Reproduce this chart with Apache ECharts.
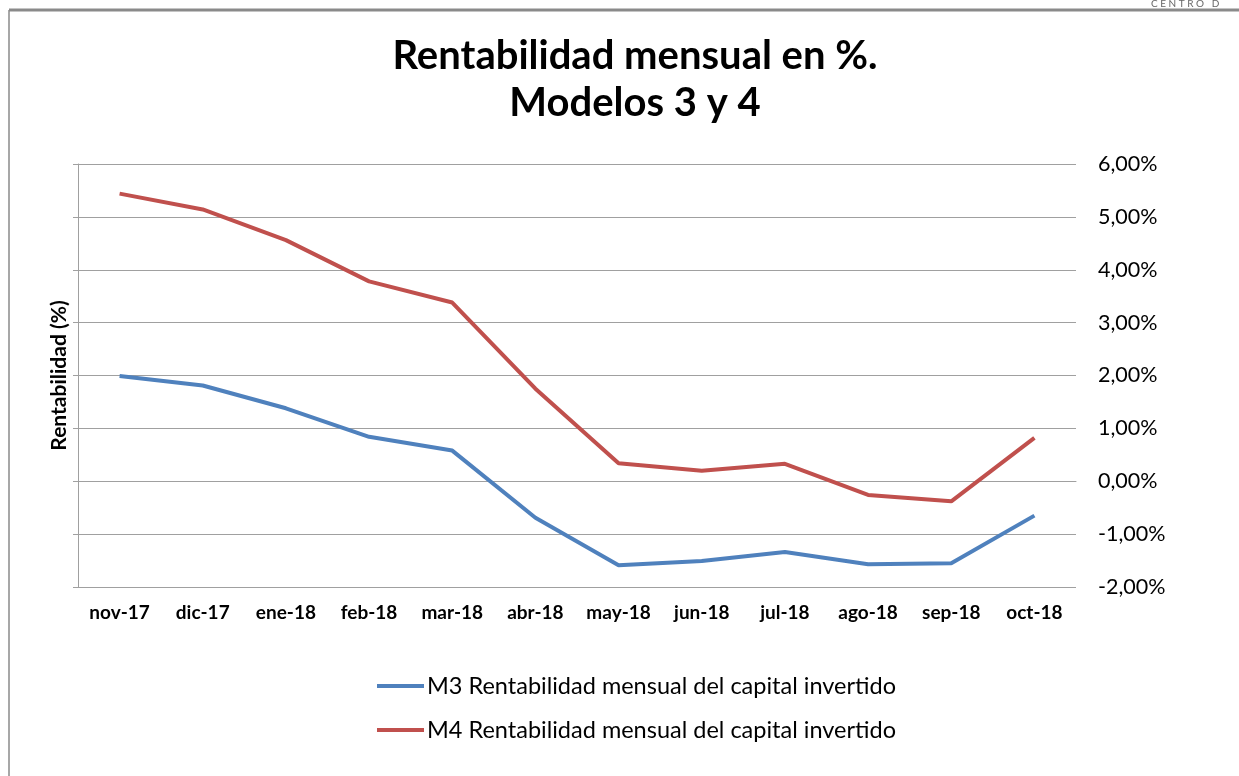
<!DOCTYPE html>
<html>
<head>
<meta charset="utf-8">
<script src="https://cdn.jsdelivr.net/npm/echarts@6/dist/echarts.min.js"></script>
<style>
  html, body { margin: 0; padding: 0; background: #fff; }
  #chart { width: 1239px; height: 776px; }
</style>
</head>
<body>
<div id="chart"></div>
<script>
let months = ['nov-17', 'dic-17', 'ene-18', 'feb-18', 'mar-18', 'abr-18', 'may-18', 'jun-18', 'jul-18', 'ago-18', 'sep-18', 'oct-18'];
let m3Values = [1.99, 1.81, 1.38, 0.84, 0.58, -0.69, -1.59, -1.51, -1.34, -1.57, -1.55, -0.65];
let m4Values = [5.44, 5.14, 4.56, 3.78, 3.38, 1.75, 0.34, 0.20, 0.33, -0.26, -0.38, 0.82];
let m3Name = 'M3 Rentabilidad mensual del capital invertido';
let m4Name = 'M4 Rentabilidad mensual del capital invertido';

let font = 'Lato, "Open Sans", sans-serif';
let chart = echarts.init(document.getElementById('chart'));

let options = {
  backgroundColor: '#fff',
  textStyle: { fontFamily: font },
  title: {
    text: 'Rentabilidad mensual en %.\nModelos 3 y 4',
    left: 630,
    textAlign: 'center',
    top: 28,
    textStyle: { fontSize: 40, fontWeight: 'bold', color: '#000', lineHeight: 47, fontFamily: font }
  },
  legend: {
    orient: 'vertical',
    left: 377,
    top: 674,
    padding: 0,
    itemGap: 20,
    itemWidth: 47,
    itemHeight: 4,
    icon: 'rect',
    textStyle: { fontSize: 23.5, color: '#000', padding: [0, 0, 0, -2] },
    data: [m3Name, m4Name]
  },
  grid: {
    left: 78,
    right: 163,
    top: 164,
    bottom: 189
  },
  xAxis: {
    type: 'category',
    data: months,
    boundaryGap: true,
    axisLine: { lineStyle: { color: '#a0a0a0', width: 1 } },
    axisTick: { show: false },
    axisLabel: { interval: 0, fontSize: 19, fontWeight: 'bold', color: '#000', margin: 16 }
  },
  yAxis: [
    {
      type: 'value',
      position: 'right',
      min: -2,
      max: 6,
      interval: 1,
      axisLine: { show: false },
      axisTick: { show: false },
      axisLabel: {
        fontSize: 21.5,
        color: '#000',
        margin: 22,
        formatter: v => v.toFixed(2).replace('.', ',') + '%'
      },
      splitLine: { lineStyle: { color: '#a0a0a0', width: 1 } }
    },
    {
      type: 'value',
      position: 'left',
      min: -2,
      max: 6,
      interval: 1,
      name: 'Rentabilidad (%)',
      nameLocation: 'middle',
      nameGap: 8,
      nameRotate: 90,
      nameTextStyle: { fontSize: 21, fontWeight: 'bold', color: '#000' },
      axisLine: { show: true, lineStyle: { color: '#a0a0a0', width: 1 } },
      axisTick: { show: true, inside: false, length: 5, lineStyle: { color: '#a0a0a0' } },
      axisLabel: { show: false },
      splitLine: { show: false }
    }
  ],
  series: [
    {
      name: m3Name,
      type: 'line',
      data: m3Values,
      yAxisIndex: 0,
      symbol: 'none',
      lineStyle: { width: 4, color: '#4F81BD' },
      itemStyle: { color: '#4F81BD' }
    },
    {
      name: m4Name,
      type: 'line',
      data: m4Values,
      yAxisIndex: 0,
      symbol: 'none',
      lineStyle: { width: 4, color: '#C0504D' },
      itemStyle: { color: '#C0504D' }
    }
  ],
  graphic: [
    {
      type: 'line',
      shape: { x1: 9, y1: 10, x2: 1239, y2: 10 },
      style: { stroke: '#8a8a8a', lineWidth: 3 }
    },
    {
      type: 'line',
      shape: { x1: 9, y1: 10, x2: 9, y2: 776 },
      style: { stroke: '#8a8a8a', lineWidth: 1.5 }
    },
    {
      type: 'text',
      left: 1151,
      top: -1,
      style: { text: 'C E N T R O   D', fontSize: 10, fill: '#666', fontFamily: font }
    }
  ]
};

chart.setOption(options);
</script>
</body>
</html>
